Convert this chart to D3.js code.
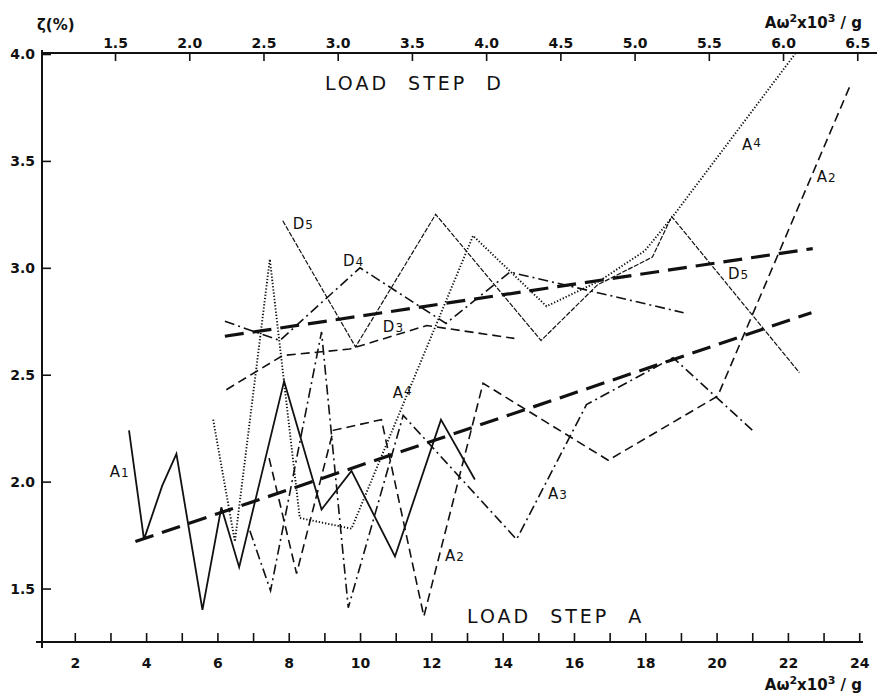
<!DOCTYPE html>
<html>
<head>
<meta charset="utf-8">
<script src="https://cdn.jsdelivr.net/npm/d3@7/dist/d3.min.js"></script>
<style>
  body { margin: 0; background: #fff; }
  svg text { font-family: "DejaVu Sans", sans-serif; fill: #111; }
</style>
</head>
<body>
<div id="app"></div>
<script>
// ---- load step A (bottom axis, A w^2 x 10^3 / g) ----
const loadA1X = [3.52, 3.94, 4.45, 4.85, 5.58, 6.11, 6.61, 7.87, 8.92, 9.76, 10.98, 12.27, 13.22];
const loadA1Y = [2.24, 1.73, 1.98, 2.13, 1.40, 1.88, 1.60, 2.47, 1.87, 2.05, 1.65, 2.29, 2.01];

const loadA2X = [7.45, 8.22, 9.25, 10.60, 11.79, 13.45, 16.96, 20.03, 23.74];
const loadA2Y = [2.11, 1.57, 2.24, 2.29, 1.37, 2.46, 2.10, 2.40, 3.85];

const loadA3X = [6.91, 7.49, 8.92, 9.67, 11.21, 14.39, 16.35, 18.78, 21.07];
const loadA3Y = [1.77, 1.49, 2.70, 1.41, 2.31, 1.73, 2.36, 2.58, 2.23];

const loadA4X = [5.88, 6.49, 7.47, 8.31, 9.76, 13.17, 15.23, 16.73, 17.99, 18.77, 22.2];
const loadA4Y = [2.29, 1.72, 3.04, 1.83, 1.78, 3.15, 2.82, 2.94, 3.08, 3.24, 4.0];

const trendAX = [3.70, 22.66];
const trendAY = [1.72, 2.79];

// ---- load step D (top axis) ----
const loadD3X = [2.25, 2.63, 3.08, 3.60, 4.19];
const loadD3Y = [2.43, 2.59, 2.62, 2.73, 2.67];

const loadD4X = [2.24, 2.61, 3.15, 3.73, 4.16, 5.33];
const loadD4Y = [2.75, 2.66, 3.00, 2.74, 2.98, 2.79];

const loadD5X = [2.63, 3.12, 3.66, 4.37, 4.75, 5.12, 5.25, 6.11];
const loadD5Y = [3.22, 2.63, 3.25, 2.66, 2.92, 3.05, 3.24, 2.51];

const trendDX = [2.24, 6.20];
const trendDY = [2.68, 3.09];

// ---- ticks ----
const bottomTickValues = [2, 3, 4, 5, 6, 7, 8, 9, 10, 11, 12, 13, 14, 15, 16, 17, 18, 19, 20, 21, 22, 23, 24];
const topTickValues = [1.5, 2.0, 2.5, 3.0, 3.5, 4.0, 4.5, 5.0, 5.5, 6.0, 6.5];
const yTickValues = [1.5, 2.0, 2.5, 3.0, 3.5, 4.0];

const screen = { width: 877, height: 700 };
const frame = { left: 42, right: 861, top: 54, bottom: 642 };

const lineStyles = {
  solid: { width: 1.8, dash: null },
  dashed: { width: 1.6, dash: "9,5" },
  dashDot: { width: 1.6, dash: "10,4,2,4" },
  dotted: { width: 1.9, dash: "1.3,1.9" },
  fine: { width: 1.2, dash: "5,1.5" },
  trend: { width: 3.2, dash: "19,9" }
};

const scales = {
  xBottom: d3.scaleLinear().domain([1.08, 24.05]).range([frame.left, frame.right]),
  xTop: d3.scaleLinear().domain([1.008, 6.633]).range([frame.left, screen.width]),
  y: d3.scaleLinear().domain([1.25, 4.0]).range([frame.bottom, frame.top])
};

const zip = (xs, ys) => xs.map((x, i) => [x, ys[i]]);

const series = [
  { pts: zip(loadA1X, loadA1Y), axis: "xBottom", style: "solid" },
  { pts: zip(loadA2X, loadA2Y), axis: "xBottom", style: "dashed" },
  { pts: zip(loadA3X, loadA3Y), axis: "xBottom", style: "dashDot" },
  { pts: zip(loadA4X, loadA4Y), axis: "xBottom", style: "dotted" },
  { pts: zip(loadD3X, loadD3Y), axis: "xTop", style: "dashed" },
  { pts: zip(loadD4X, loadD4Y), axis: "xTop", style: "dashDot" },
  { pts: zip(loadD5X, loadD5Y), axis: "xTop", style: "fine" },
  { pts: zip(trendAX, trendAY), axis: "xBottom", style: "trend" },
  { pts: zip(trendDX, trendDY), axis: "xTop", style: "trend" }
];

// curve labels, placed in bottom-axis units
const curveLabels = [
  { main: "A", sub: "1", x: 2.98, y: 2.02 },
  { main: "A", sub: "2", x: 12.38, y: 1.63 },
  { main: "A", sub: "3", x: 15.27, y: 1.92 },
  { main: "A", sub: "4", x: 10.92, y: 2.39, raise: true },
  { main: "A", sub: "4", x: 20.71, y: 3.55, raise: true },
  { main: "A", sub: "2", x: 22.81, y: 3.40 },
  { main: "D", sub: "5", x: 8.11, y: 3.18 },
  { main: "D", sub: "4", x: 9.52, y: 3.01 },
  { main: "D", sub: "3", x: 10.64, y: 2.70 },
  { main: "D", sub: "5", x: 20.32, y: 2.95 }
];

const drawAxes = (svg) => {
  const { xBottom, xTop, y } = scales;

  const bottom = svg.append("g")
    .attr("transform", `translate(0,${frame.bottom})`)
    .call(d3.axisBottom(xBottom)
      .tickValues(bottomTickValues)
      .tickSize(-9)
      .tickPadding(16)
      .tickFormat((d) => (d % 2 === 0 ? d : "")));

  const top = svg.append("g")
    .attr("transform", `translate(0,${frame.top - 1})`)
    .call(d3.axisTop(xTop)
      .tickValues(topTickValues)
      .tickSize(-8)
      .tickPadding(5)
      .tickFormat(d3.format(".1f")));

  const left = svg.append("g")
    .attr("transform", `translate(${frame.left},0)`)
    .call(d3.axisLeft(y)
      .tickValues(yTickValues)
      .tickSize(-9)
      .tickPadding(7)
      .tickFormat(d3.format(".1f")));

  [bottom, top, left].forEach((g) => {
    g.select(".domain").remove();
    g.selectAll(".tick line").attr("stroke", "#111").attr("stroke-width", 1.6);
    g.selectAll(".tick text")
      .attr("font-size", 14)
      .attr("font-weight", "bold")
      .attr("fill", "#111");
  });

  // axis lines drawn by hand, slightly overshooting like the original
  const axisLines = [
    [frame.left - 6, frame.bottom, frame.right + 2, frame.bottom],
    [frame.left, frame.top - 1, screen.width, frame.top - 1],
    [frame.left, frame.top - 4, frame.left, frame.bottom + 6]
  ];
  svg.append("g")
    .selectAll("line")
    .data(axisLines)
    .enter()
    .append("line")
    .attr("x1", (d) => d[0])
    .attr("y1", (d) => d[1])
    .attr("x2", (d) => d[2])
    .attr("y2", (d) => d[3])
    .attr("stroke", "#111")
    .attr("stroke-width", 2);
};

const unitLabel = (svg, x, y) => {
  const t = svg.append("text")
    .attr("x", x)
    .attr("y", y)
    .attr("text-anchor", "end")
    .attr("font-size", 15)
    .attr("font-weight", "bold");
  t.append("tspan").text("Aω");
  t.append("tspan").attr("dy", -6).attr("font-size", 11).text("2");
  t.append("tspan").attr("dy", 6).text("x10");
  t.append("tspan").attr("dy", -6).attr("font-size", 11).text("3");
  t.append("tspan").attr("dy", 6).text(" / g");
};

const createChart = () => {
  const svg = d3.create("svg")
    .attr("width", screen.width)
    .attr("height", screen.height);

  svg.append("rect")
    .attr("width", screen.width)
    .attr("height", screen.height)
    .attr("fill", "#fff");

  drawAxes(svg);

  const lineFor = (axis) => d3.line()
    .x((d) => scales[axis](d[0]))
    .y((d) => scales.y(d[1]));

  svg.append("g")
    .selectAll("path")
    .data(series)
    .enter()
    .append("path")
    .attr("d", (d) => lineFor(d.axis)(d.pts))
    .attr("fill", "none")
    .attr("stroke", "#111")
    .attr("stroke-linejoin", "miter")
    .attr("stroke-width", (d) => lineStyles[d.style].width)
    .attr("stroke-dasharray", (d) => lineStyles[d.style].dash);

  // curve labels
  const labels = svg.append("g")
    .selectAll("text")
    .data(curveLabels)
    .enter()
    .append("text")
    .attr("x", (d) => scales.xBottom(d.x))
    .attr("y", (d) => scales.y(d.y))
    .attr("font-size", 15);
  labels.append("tspan").text((d) => d.main);
  labels.append("tspan")
    .attr("font-size", 12)
    .attr("dy", (d) => (d.raise ? -3 : 0))
    .attr("dx", 1)
    .text((d) => d.sub);

  // load step captions
  svg.append("text")
    .attr("x", scales.xTop(2.914))
    .attr("y", scales.y(3.83))
    .attr("font-size", 19)
    .attr("letter-spacing", 3)
    .attr("word-spacing", 10)
    .text("LOAD STEP D");

  svg.append("text")
    .attr("x", scales.xBottom(13.0))
    .attr("y", scales.y(1.337))
    .attr("font-size", 19)
    .attr("letter-spacing", 3)
    .attr("word-spacing", 10)
    .text("LOAD STEP A");

  // axis titles
  svg.append("text")
    .attr("x", 37)
    .attr("y", 30)
    .attr("font-size", 15)
    .attr("font-weight", "bold")
    .text("ζ(%)");

  unitLabel(svg, 862, 28);
  unitLabel(svg, 862, 690);

  return svg;
};

document.getElementById("app").append(createChart().node());
</script>
</body>
</html>
